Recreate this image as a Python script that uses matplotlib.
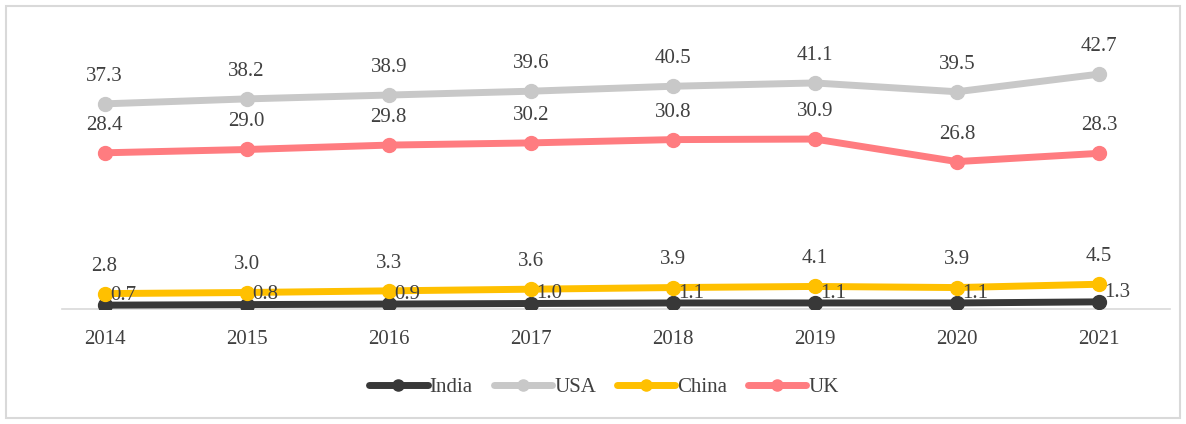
import matplotlib.pyplot as plt
from matplotlib.patches import Rectangle

years = ["2014", "2015", "2016", "2017", "2018", "2019", "2020", "2021"]
india = [0.7, 0.8, 0.9, 1.0, 1.1, 1.1, 1.1, 1.3]
usa = [37.3, 38.2, 38.9, 39.6, 40.5, 41.1, 39.5, 42.7]
china = [2.8, 3.0, 3.3, 3.6, 3.9, 4.1, 3.9, 4.5]
uk = [28.4, 29.0, 29.8, 30.2, 30.8, 30.9, 26.8, 28.3]

plt.rcParams["font.family"] = ["Liberation Serif", "DejaVu Serif"]
txt = "#404040"
fs = 15

fig = plt.figure(figsize=(11.86, 4.24), dpi=100)
ax = fig.add_axes([62 / 1186, 115 / 424, (1170 - 62) / 1186, 275 / 424])
x = range(len(years))

series = [
    ("India", india, "#383838", "right"),
    ("USA", usa, "#c8c8c8", "above"),
    ("China", china, "#ffc000", "above"),
    ("UK", uk, "#ff7c80", "above"),
]
for name, vals, col, pos in series:
    ax.plot(x, vals, color=col, lw=5, marker="o", ms=10, label=name,
            solid_capstyle="round")
    for i, v in enumerate(vals):
        if pos == "above":
            ax.annotate(f"{v:.1f}", (i, v), xytext=(0, 13), textcoords="offset points",
                        ha="center", va="bottom", fontsize=fs, color=txt)
        else:
            ax.annotate(f"{v:.1f}", (i, v), xytext=(4, 7), textcoords="offset points",
                        ha="left", va="center", fontsize=fs, color=txt)

ax.set_xlim(-0.3, 7.5)
ax.set_ylim(0, 50)
ax.set_xticks(list(x))
ax.set_xticklabels(years, fontsize=fs, color=txt)
ax.tick_params(axis="x", length=0, pad=15)
ax.set_yticks([])
for s in ["top", "right", "left"]:
    ax.spines[s].set_visible(False)
ax.spines["bottom"].set_color("#d9d9d9")
ax.spines["bottom"].set_linewidth(1.2)
ax.spines["bottom"].set_zorder(0)

leg = fig.legend(loc="center", bbox_to_anchor=(604 / 1186, 1 - 387 / 424), ncol=4,
                 frameon=False, fontsize=fs, handlelength=2.8, handletextpad=0.1,
                 columnspacing=1.0, markerscale=0.8)
for h in leg.legend_handles:
    h.set_linewidth(5)
for t in leg.get_texts():
    t.set_color(txt)

fig.patches.append(Rectangle((6 / 1186, 6 / 424), 1174 / 1186, 412 / 424,
                             transform=fig.transFigure, fill=False,
                             edgecolor="#d9d9d9", lw=1.5))

fig.savefig("out.png", dpi=100)
